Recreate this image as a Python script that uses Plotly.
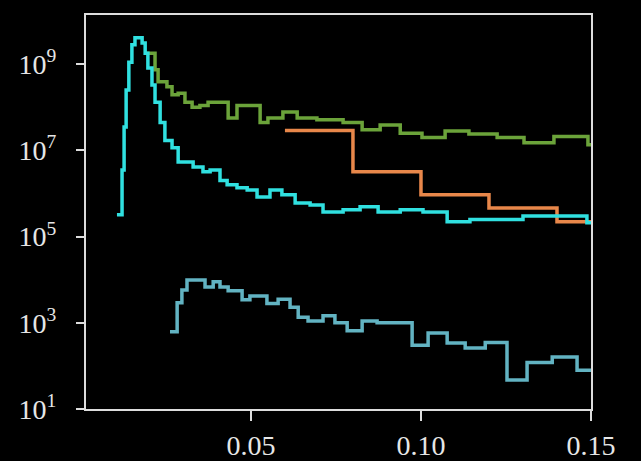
import plotly.graph_objects as go

# Step histograms: left bin edges and bin contents, last point closes the final bin
cyan_x = [0.0106, 0.0121, 0.0127, 0.0133, 0.0141, 0.0150, 0.0159, 0.0180, 0.0189,
          0.0197, 0.0209, 0.0218, 0.0233, 0.0247, 0.0268, 0.0286, 0.0330, 0.0359,
          0.0380, 0.0409, 0.0430, 0.0459, 0.0489, 0.0518, 0.0556, 0.0591, 0.0630,
          0.0674, 0.0712, 0.0771, 0.0821, 0.0874, 0.0939, 0.1006, 0.1077, 0.1144,
          0.1300, 0.1488, 0.1500]
cyan_y = [3.2e5, 3.5e6, 3.5e7, 2.5e8, 1.1e9, 2.8e9, 4.1e9, 3.1e9, 1.8e9,
          8.1e8, 3.3e8, 1.3e8, 4.4e7, 1.7e7, 1.15e7, 5.4e6, 4.1e6, 3.2e6,
          3.5e6, 2.0e6, 1.6e6, 1.35e6, 1.2e6, 8.3e5, 1.2e6, 9.3e5, 6.0e5,
          5.4e5, 3.7e5, 4.2e5, 4.9e5, 3.7e5, 4.2e5, 3.7e5, 2.2e5, 2.5e5,
          3.0e5, 2.1e5, 2.1e5]

green_x = [0.0194, 0.0218, 0.0227, 0.0253, 0.0268, 0.0286, 0.0306, 0.0327, 0.0350,
           0.0374, 0.0433, 0.0459, 0.0527, 0.0550, 0.0594, 0.0636, 0.0694, 0.0771,
           0.0827, 0.0880, 0.0939, 0.1003, 0.1071, 0.1141, 0.1224, 0.1303, 0.1391,
           0.1491, 0.1500]
green_y = [1.8e9, 7.4e8, 3.9e8, 3.0e8, 1.95e8, 2.1e8, 1.3e8, 1.0e8, 1.1e8,
           1.3e8, 5.6e7, 1.1e8, 4.4e7, 5.6e7, 7.8e7, 5.6e7, 5.1e7, 4.4e7,
           3.0e7, 3.9e7, 2.5e7, 2.0e7, 2.8e7, 2.4e7, 2.0e7, 1.5e7, 2.1e7,
           1.35e7, 1.35e7]

orange_x = [0.06, 0.08, 0.10, 0.12, 0.14, 0.15]
orange_y = [2.9e7, 3.2e6, 9.3e5, 4.6e5, 2.2e5, 2.2e5]

teal_x = [0.0262, 0.0283, 0.0297, 0.0312, 0.0365, 0.0389, 0.0409, 0.0433, 0.0474,
          0.0497, 0.0547, 0.0580, 0.0615, 0.0639, 0.0668, 0.0712, 0.0747, 0.0783,
          0.0827, 0.0871, 0.0974, 0.1021, 0.1077, 0.1130, 0.1189, 0.1253, 0.1312,
          0.1386, 0.1459, 0.1500]
teal_y = [6.2e2, 2.9e3, 5.8e3, 9.8e3, 6.8e3, 8.9e3, 6.8e3, 5.5e3, 3.4e3,
          4.2e3, 2.8e3, 3.5e3, 2.3e3, 1.35e3, 1.1e3, 1.45e3, 1.0e3, 6.5e2,
          1.1e3, 1.0e3, 3.0e2, 5.8e2, 3.4e2, 2.6e2, 3.5e2, 4.7e1, 1.2e2,
          1.6e2, 7.9e1, 7.9e1]

x_ticks = [0.05, 0.10, 0.15]
y_tick_exps = [1, 3, 5, 7, 9]

series = [
    (green_x, green_y, "#6ba33a"),
    (orange_x, orange_y, "#e8874a"),
    (teal_x, teal_y, "#62b3c2"),
    (cyan_x, cyan_y, "#30e0e0"),
]

fig = go.Figure()
for xs, ys, col in series:
    fig.add_trace(go.Scatter(x=xs, y=ys, mode="lines", line_shape="hv",
                             line=dict(color=col, width=3.5), showlegend=False))

axis_font = dict(family="Liberation Serif, Times New Roman, serif", size=28, color="#e6e6e6")

fig.update_layout(
    width=641, height=461,
    paper_bgcolor="black", plot_bgcolor="black",
    margin=dict(l=86, r=50, t=15, b=52),
    font=axis_font,
)
fig.update_xaxes(
    range=[0.0015, 0.15], tickvals=x_ticks,
    ticktext=[f"{v:.2f}" for v in x_ticks],
    showgrid=False, zeroline=False, automargin=False,
    showline=True, linecolor="#dddddd", linewidth=2, mirror=True,
    ticks="outside", ticklen=10, tickwidth=2, tickcolor="#dddddd",
    tickfont=axis_font,
)
fig.update_yaxes(
    type="log", range=[1, 10.14],
    tickvals=[10 ** e for e in y_tick_exps],
    ticktext=[f"10<sup>{e}</sup>" for e in y_tick_exps],
    showgrid=False, zeroline=False, automargin=False,
    showline=True, linecolor="#dddddd", linewidth=2, mirror=True,
    ticks="outside", ticklen=8, tickwidth=2, tickcolor="#dddddd",
    tickfont=axis_font, ticklabelstandoff=14,
)

fig.write_html("out.html")
